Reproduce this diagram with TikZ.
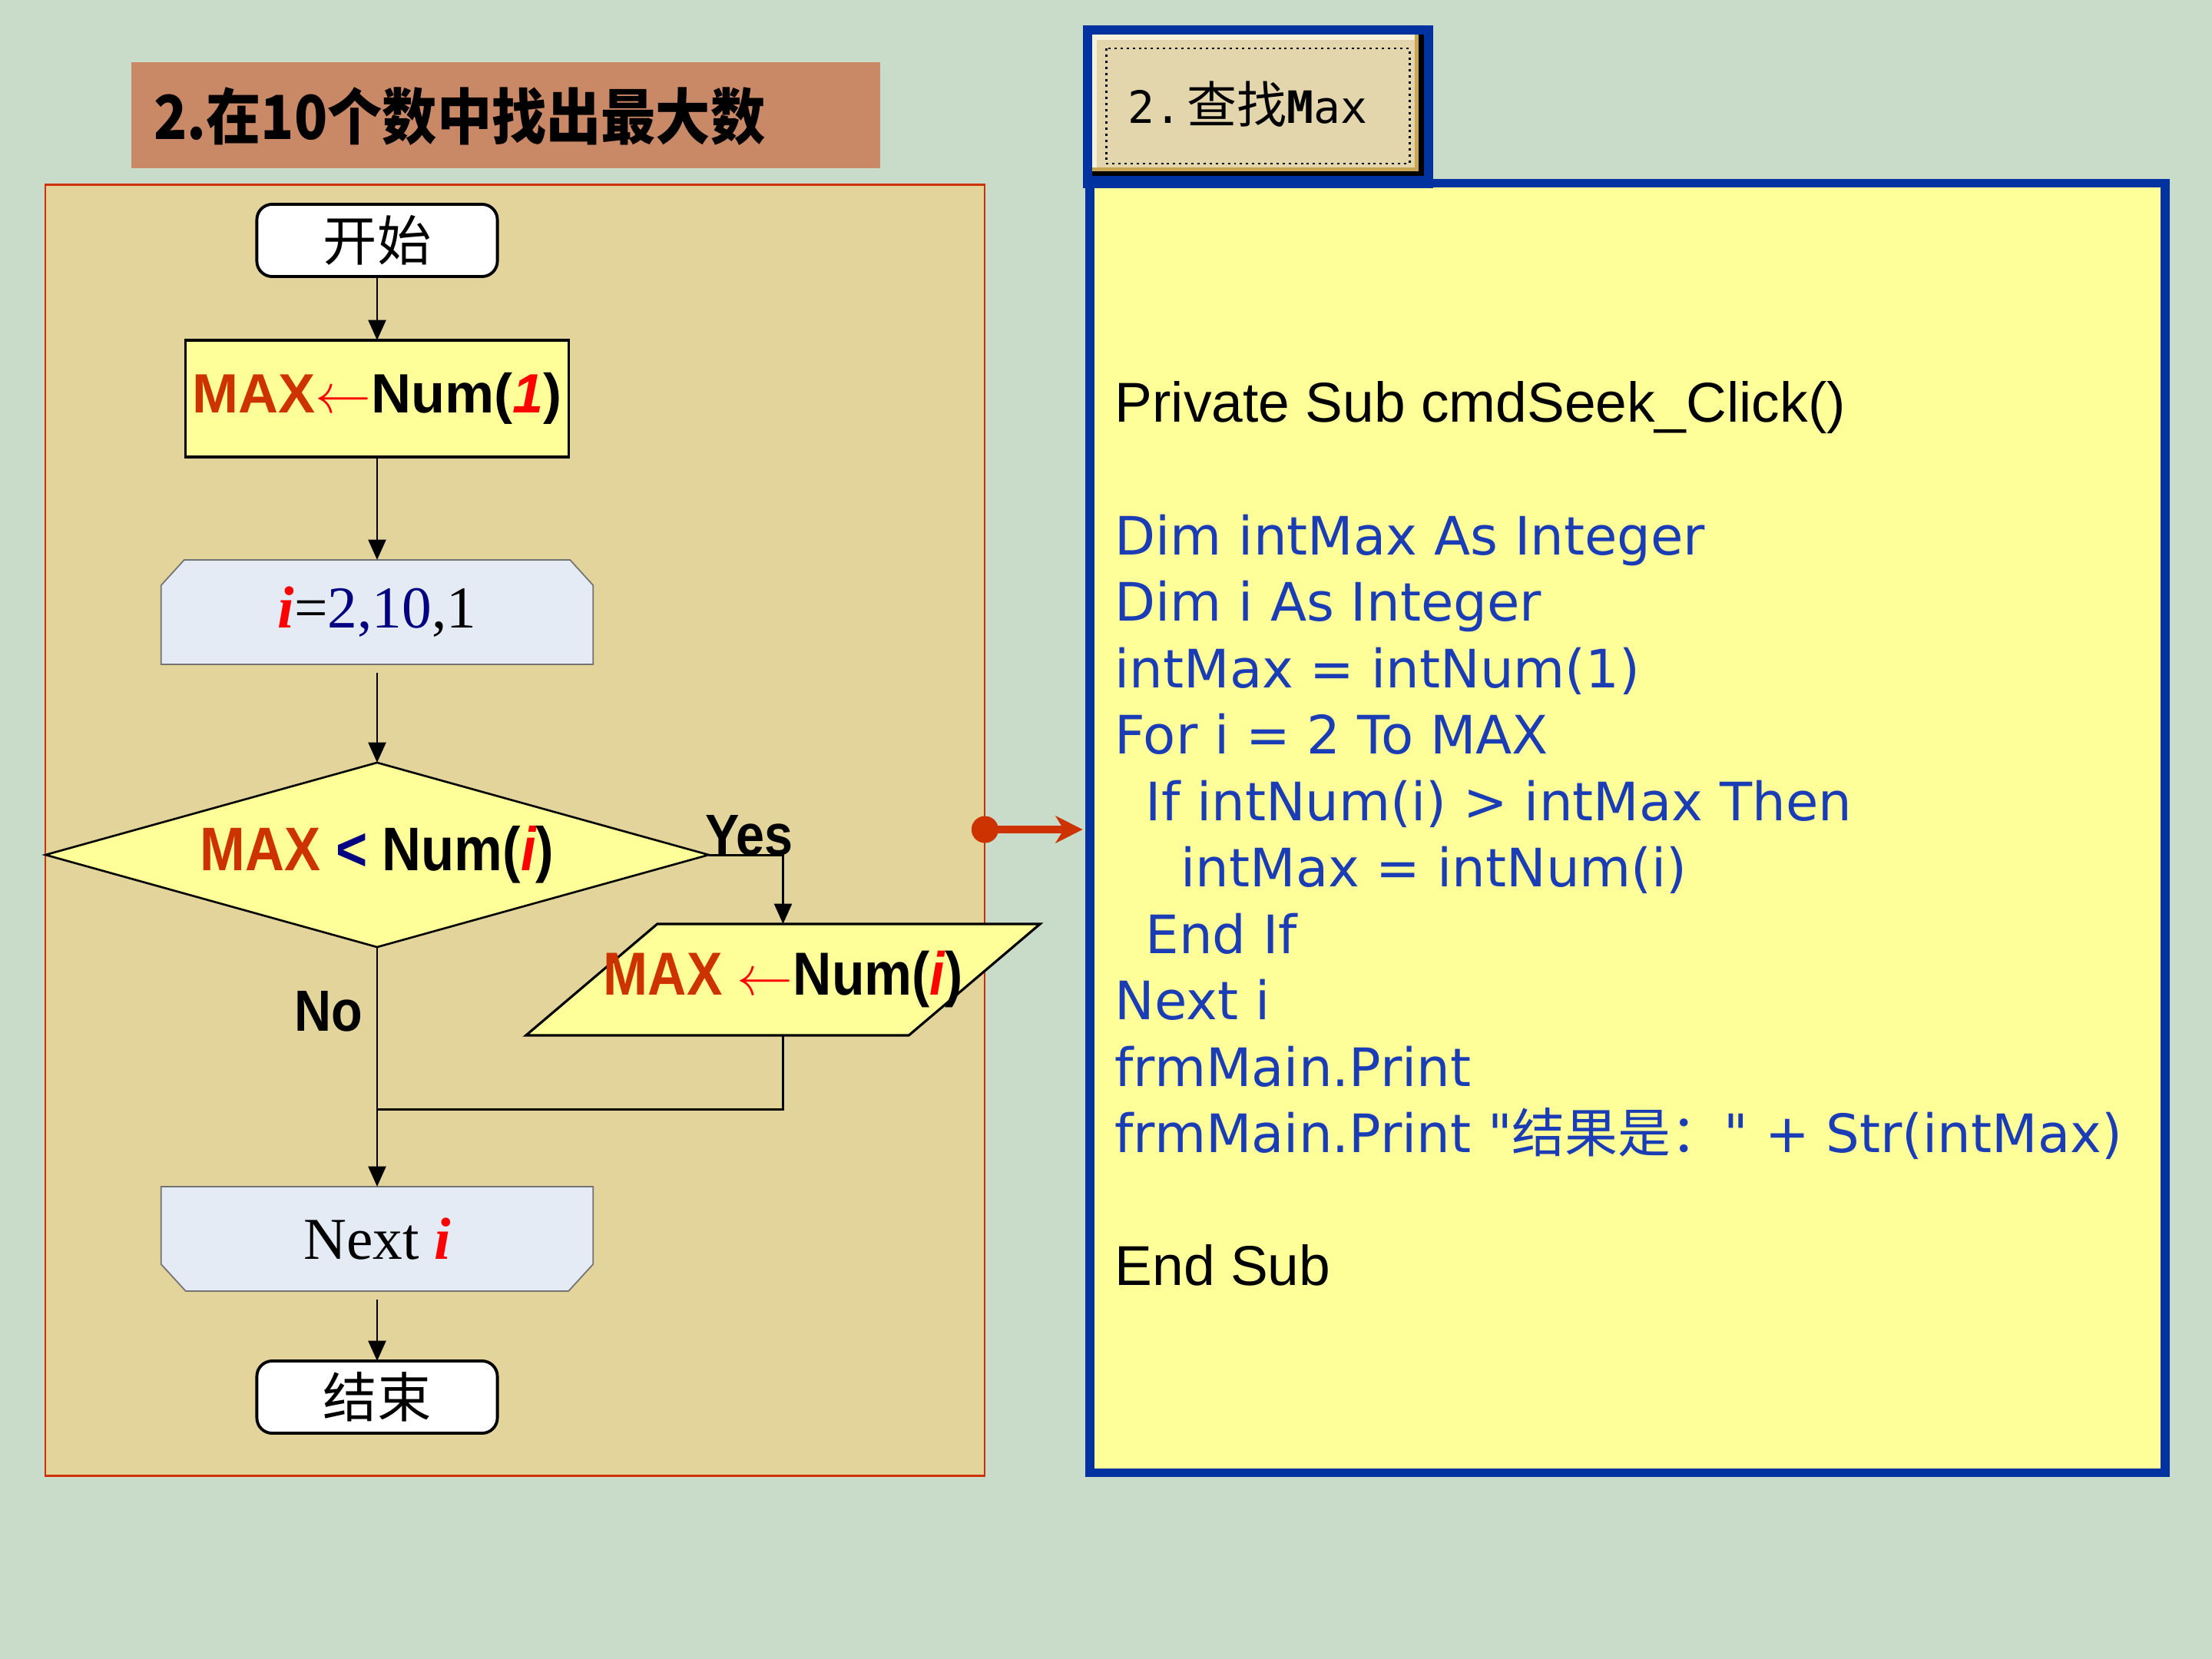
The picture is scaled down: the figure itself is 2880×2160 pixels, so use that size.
\documentclass[tikz,border=0pt]{standalone}
\usepackage{fontspec}
\setmainfont{Liberation Serif}
\newfontfamily\arialfont{Liberation Sans}
\newfontfamily\narrowfont[FakeStretch=0.88]{Liberation Sans}
\newfontfamily\codefont{DejaVu Sans}
\newfontfamily\cjkfont{Noto Sans CJK SC}
\newfontfamily\cjkcond[FakeStretch=0.9]{Noto Sans CJK SC}
\newfontfamily\pixfont{DejaVu Sans Mono}
\usetikzlibrary{arrows.meta,calc,shapes.geometric,backgrounds}
\definecolor{cbg}{HTML}{C9DCC9}
\definecolor{ctitle}{HTML}{C98966}
\definecolor{cpanel}{HTML}{E3D49B}
\definecolor{cedge}{HTML}{CC3300}
\definecolor{cyel}{HTML}{FFFF99}
\definecolor{cloop}{HTML}{E4EBF5}
\definecolor{cnavy}{HTML}{000080}
\definecolor{ccode}{HTML}{1A3CB4}
\definecolor{cframe}{HTML}{0033A0}
\definecolor{cbtn}{HTML}{E3D6AD}
\definecolor{cgold}{HTML}{C8A552}
\definecolor{ccream}{HTML}{F7F0DA}
\def\cx{491}      % flow axis (px)
\def\lh{86.5}     % code line pitch (px)
\def\cy{549}      % baseline of first code line

\begin{document}
\begin{tikzpicture}[x=0.01cm, y=-0.01cm, line join=miter,
    >={Triangle[length=7.5pt,width=6.5pt]},
    flow/.style={->, line width=0.85pt},
    link/.style={line width=0.85pt},
    term/.style={draw, line width=1.1pt, fill=white, rounded corners=0.2cm,
      minimum width=3.13cm, minimum height=0.94cm, inner sep=0pt, outer sep=0pt,
      font=\cjkfont\fontsize{20}{24}\selectfont},
    procbox/.style={draw, line width=0.9pt, fill=cyel, minimum width=4.98cm,
      minimum height=1.52cm, inner sep=0pt, outer sep=0pt,
      font=\arialfont\bfseries\fontsize{20.5}{24}\selectfont},
    loopbox/.style={minimum width=5.62cm, minimum height=1.36cm, inner sep=0pt,
      outer sep=0pt, font=\fontsize{22}{26}\selectfont},
    chamf/.style={draw=black!55, line width=0.5pt, fill=cloop},
    decide/.style={diamond, draw, line width=0.75pt, fill=cyel, aspect=3.6,
      minimum width=8.63cm, minimum height=2.40cm, inner sep=0pt, outer sep=0pt,
      font=\narrowfont\bfseries\fontsize{22.8}{26}\selectfont},
    iobox/.style={minimum width=6.69cm, minimum height=1.45cm, inner sep=0pt,
      outer sep=0pt, font=\narrowfont\bfseries\fontsize{22.5}{26}\selectfont},
    tag/.style={inner sep=0pt, font=\narrowfont\bfseries\fontsize{21.5}{25}\selectfont},
    codeline/.style={inner sep=0pt, anchor=base west, text=ccode,
      font=\codefont\fontsize{19.6}{23}\selectfont},
    codehead/.style={inner sep=0pt, anchor=base west,
      font=\arialfont\fontsize{20.8}{25}\selectfont}]

\useasboundingbox (0,0) rectangle (2880,2160);

% =================== scenery: slide, title bar, panels ===================
\begin{scope}[on background layer]
\fill[cbg] (0,0) rectangle (2880,2160);
\node[fill=ctitle, minimum width=9.75cm, minimum height=1.38cm, inner sep=0pt,
      outer sep=0pt] (titlebar) at (658.5,150) {};
\node[draw=cedge, fill=cpanel, line width=0.6pt, minimum width=12.23cm,
      minimum height=16.80cm, inner sep=0pt, outer sep=0pt] (panel) at (670.5,1081) {};
\node[draw=cframe, fill=cyel, line width=3.4pt, minimum width=14.00cm,
      minimum height=16.78cm, inner sep=0pt, outer sep=0pt] (codebox) at (2119,1078) {};
% the "2. 查找Max" command button
\fill[cframe] (1410,33) rectangle (1866,245);
\fill[black]  (1422,45) rectangle (1854,229);
\fill[cgold]  (1422,45) rectangle (1847,223);
\fill[ccream] (1422,45) rectangle (1842,218);
\fill[cbtn]   (1428,52) rectangle (1842,218);
\draw[line width=0.85pt, dash pattern=on 0.85pt off 1.4pt] (1440,63) rectangle (1835,213);
\end{scope}

\node[anchor=west, inner sep=0pt, font=\cjkcond\bfseries\fontsize{22.5}{26}\selectfont]
  (title) at ($(titlebar.west)+(29,2)$) {2.在10个数中找出最大数};
\node[anchor=base west, inner sep=0pt, font=\pixfont\fontsize{16.5}{20}\selectfont]
  (btn) at (1468,160) {2.\hspace{0.12em}{\cjkfont\fontsize{18.5}{20}\selectfont 查找}\textbf{M}ax};

% =================== flow chart ===================
\node[term] (start) at (\cx,313) {开始};
\node[procbox] (init) at (\cx,519)
  {\textcolor{cedge}{MAX}\textcolor{red}{$\leftarrow$}Num(\textcolor{red}{\itshape 1})};
\node[loopbox] (loop) at (\cx,797)
  {\textcolor{red}{\bfseries\itshape i}=\textcolor{cnavy}{2,10},1};
\node[decide] (dia) at (\cx,1113)
  {\textcolor{cedge}{MAX} \textcolor{cnavy}{<} Num(\textcolor{red}{\itshape i})};
\node[iobox] (asgn) at (1019.5,1275.5)
  {\textcolor{cedge}{MAX} \textcolor{red}{$\leftarrow$}Num(\textcolor{red}{\itshape i})};
\node[loopbox] (nxt) at (\cx,1613) {Next \textcolor{red}{\bfseries\itshape i}};
\node[term] (stop) at (\cx,1819) {结束};
\coordinate (join) at (\cx,1444);

% shapes that TikZ has no ready node for
\begin{scope}[on background layer]
\draw[chamf] (loop.south west) -- ($(loop.north west)+(0,33)$)
  -- ($(loop.north west)+(30,0)$) -- ($(loop.north east)+(-30,0)$)
  -- ($(loop.north east)+(0,33)$) -- (loop.south east) -- cycle;
\draw[chamf] (nxt.north west) -- (nxt.north east)
  -- ($(nxt.south east)+(0,-35)$) -- ($(nxt.south east)+(-32,0)$)
  -- ($(nxt.south west)+(32,0)$) -- ($(nxt.south west)+(0,-35)$) -- cycle;
\draw[line width=0.9pt, fill=cyel] (asgn.south west)
  -- ($(asgn.north west)+(171,0)$) -- (asgn.north east)
  -- ($(asgn.south east)+(-171,0)$) -- cycle;
\end{scope}

% connectors
\draw[flow] (start) -- (init);
\draw[flow] (init) -- (loop);
\draw[flow, shorten <=3pt] (loop) -- (dia);
\draw[flow] (dia) -- node[tag, pos=0.27, anchor=east, xshift=-0.17cm] (no) {No} (nxt);
\draw[flow] (dia.east) -| node[tag, pos=0, anchor=base west, xshift=-0.06cm] (yes) {Yes}
  (asgn.north);
\draw[link] (asgn.south) |- (join);
\draw[flow, shorten <=3pt] (nxt) -- (stop);

% =================== link to the code ===================
\coordinate (dot) at (panel.east |- 0,1080);
\fill[cedge] (dot) circle (0.175cm);
\draw[cedge, line width=2.85pt, -{Stealth[length=10pt,width=10pt,inset=3pt]}]
  (dot) -- ($(codebox.west |- dot)+(-9,0)$);

% =================== the code listing ===================
\node[codehead] (code-0) at (1451,\cy) {Private Sub cmdSeek\_Click()};
\foreach \ind/\k/\txt in {0/2/Dim intMax As Integer, 0/3/Dim i As Integer,
    0/4/intMax = intNum(1), 0/5/For i = 2 To MAX,
    40/6/If intNum(i) > intMax Then, 86/7/intMax = intNum(i),
    40/8/End If, 0/9/Next i, 0/10/frmMain.Print,
    0/11/frmMain.Print "{\cjkfont 结果是：}" + Str(intMax)}{
  \node[codeline] (code-\k) at ({1451+\ind},{\cy+\lh*\k}) {\txt};
}
\node[codehead] (code-13) at (1451,{\cy+\lh*13}) {End Sub};

\end{tikzpicture}
\end{document}
